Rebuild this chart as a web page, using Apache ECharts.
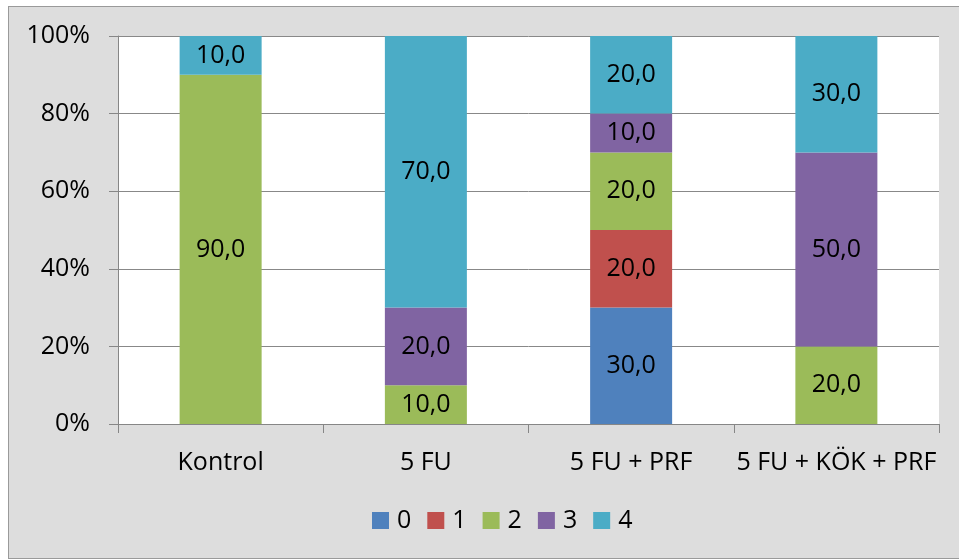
<!DOCTYPE html>
<html>
<head>
<meta charset="utf-8">
<script src="https://cdn.jsdelivr.net/npm/echarts@6/dist/echarts.min.js"></script>
<style>
  html, body { margin: 0; padding: 0; background: #fff; }
  .frame {
    position: absolute; left: 8px; top: 6px; width: 970px; height: 551px;
    background: #dddddd; border: 1px solid #9a9a9a;
  }
  #chart { position: absolute; left: 0; top: 0; width: 959px; height: 560px; }
</style>
</head>
<body>
<div class="frame"></div>
<div id="chart"></div>
<script>
  const categories = ['Kontrol', '5 FU', '5 FU + PRF', '5 FU + KÖK + PRF']
  const seriesNames = ['0', '1', '2', '3', '4']
  const s0 = [null, null, 30, null]
  const s1 = [null, null, 20, null]
  const s2 = [90, 10, 20, 20]
  const s3 = [null, 20, 10, 50]
  const s4 = [10, 70, 20, 30]
  const yTicks = [0, 20, 40, 60, 80, 100]

  const colors = ['#4f81bd', '#c0504d', '#9bbb59', '#8064a2', '#4bacc6']
  const font = 'Open Sans, Noto Sans, sans-serif'

  const chart = echarts.init(document.getElementById('chart'))

  const makeSeries = (name, data) => ({
    name,
    type: 'bar',
    stack: 'total',
    barWidth: 82,
    data,
    label: {
      show: true,
      position: 'inside',
      color: '#000',
      fontFamily: font,
      fontSize: 25,
      formatter: p => (p.value == null ? '' : p.value.toFixed(1).replace('.', ','))
    }
  })

  chart.setOption({
    backgroundColor: 'transparent',
    color: colors,
    animation: false,
    grid: {
      left: 118, right: 20, top: 36, bottom: 136,
      show: true, backgroundColor: '#ffffff', borderWidth: 0
    },
    legend: {
      left: 367, top: 503,
      itemWidth: 17, itemHeight: 17, itemGap: 16,
      icon: 'rect',
      textStyle: { fontFamily: font, fontSize: 25, color: '#000', padding: [0, 0, 0, 3] },
      data: seriesNames
    },
    xAxis: {
      type: 'category',
      data: categories,
      axisLine: { lineStyle: { color: '#868686' } },
      axisTick: { show: true, length: 9, lineStyle: { color: '#868686' } },
      axisLabel: { color: '#000', fontFamily: font, fontSize: 25, margin: 26, interval: 0 }
    },
    yAxis: {
      type: 'value',
      min: yTicks[0], max: yTicks[yTicks.length - 1], interval: 20,
      axisLine: { show: true, lineStyle: { color: '#868686' } },
      axisTick: { show: true, length: 9, lineStyle: { color: '#868686' } },
      axisLabel: { color: '#000', fontFamily: font, fontSize: 25, margin: 28, formatter: '{value}%' },
      splitLine: { lineStyle: { color: '#888888', width: 1 } }
    },
    series: [
      makeSeries(seriesNames[0], s0),
      makeSeries(seriesNames[1], s1),
      makeSeries(seriesNames[2], s2),
      makeSeries(seriesNames[3], s3),
      makeSeries(seriesNames[4], s4)
    ]
  })
</script>
</body>
</html>
